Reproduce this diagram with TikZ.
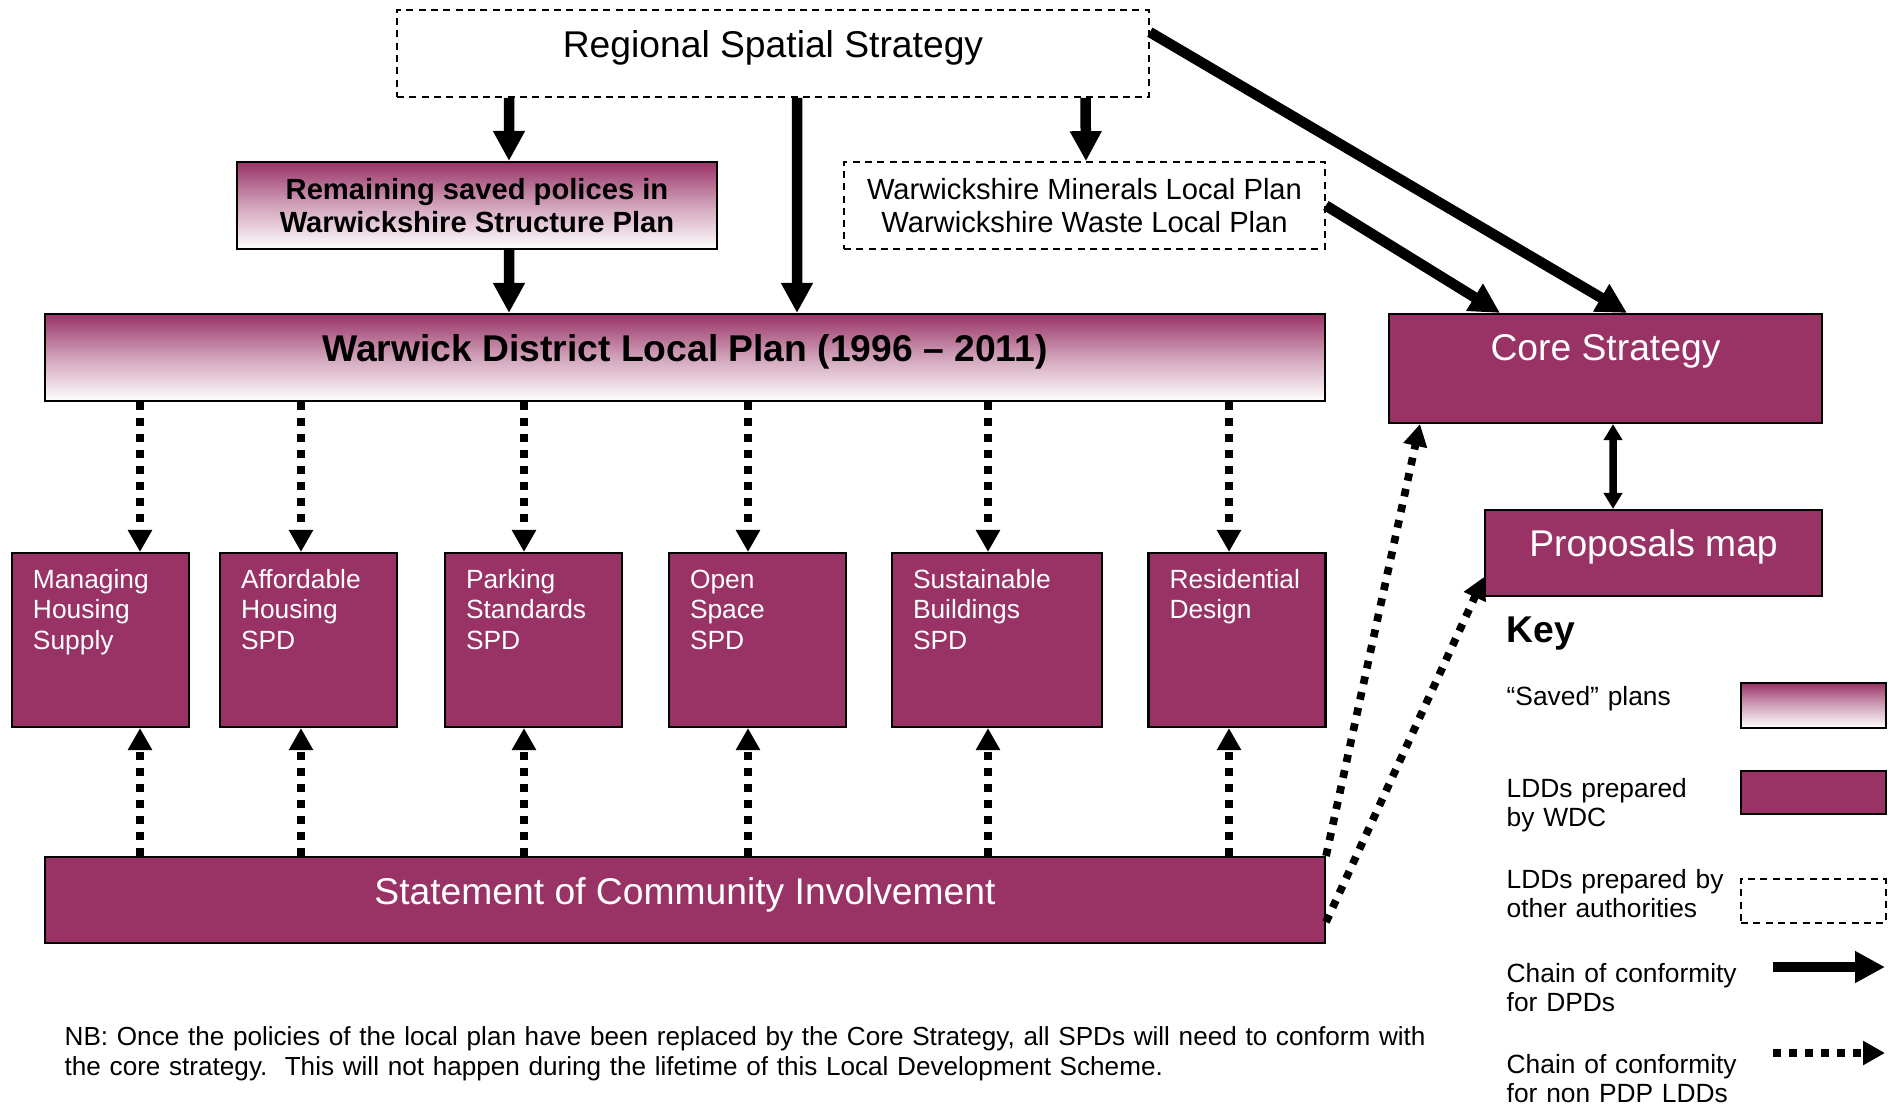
\documentclass[tikz,border=0pt]{standalone}
\usepackage{fontspec}
\setmainfont{Liberation Sans}
\usepackage{tikz}
\usetikzlibrary{arrows.meta}
\definecolor{lddplum}{HTML}{993366}

\begin{document}
\begin{tikzpicture}[
    every node/.style={font=\fontsize{10.6}{12.7}\selectfont},
    savedbox/.style={draw=black, line width=0.6pt, rectangle,
                     top color=lddplum, bottom color=white, middle color=lddplum!45!white},
    wdcbox/.style={draw=black, line width=0.6pt, rectangle, fill=lddplum, text=white},
    otherbox/.style={draw=black, line width=0.5pt, rectangle, fill=white,
                     dash pattern=on 2pt off 1.5pt},
    bigtext/.style={inner xsep=0pt, inner ysep=0pt, text height=0.47cm, text depth=0.40cm},
    midtext/.style={font=\fontsize{8.3}{9.3}\selectfont, align=center,
                    minimum height=0.87cm, inner sep=0pt},
    spdbox/.style={wdcbox, font=\fontsize{7.5}{8.8}\selectfont, align=left,
                   inner xsep=0.21cm, inner ysep=0pt, text width=1.35cm,
                   text height=0.35cm, text depth=1.39cm},
    keytext/.style={anchor=base west, align=left, text width=3.4cm, inner sep=0pt,
                    font=\fontsize{7.5}{8.5}\selectfont},
    dpd/.style={-{Triangle[length=0.30cm,width=0.30cm]}, line width=0.105cm},
    nonpdp/.style={-{Triangle[length=0.22cm,width=0.23cm]}, line width=0.077cm,
                   dash pattern=on 0.077cm off 0.083cm},
    linkarrow/.style={{Triangle[length=0.16cm,width=0.18cm]}-{Triangle[length=0.16cm,width=0.18cm]},
                      line width=0.075cm}
]
\useasboundingbox (0,0) rectangle (18.96,-11.07);

% --- Top tier ---
\node[otherbox, bigtext, minimum width=7.52cm] (rss) at (7.73,-0.535) {Regional Spatial Strategy};

\node[savedbox, midtext, font=\fontsize{8.3}{9.3}\selectfont\bfseries, minimum width=4.80cm]
     (saved) at (4.77,-2.055) {Remaining saved polices in\\Warwickshire Structure Plan};
\node[otherbox, midtext, minimum width=4.81cm]
     (mins) at (10.845,-2.055) {Warwickshire Minerals Local Plan\\Warwickshire Waste Local Plan};

\node[savedbox, bigtext, font=\fontsize{10.6}{12.7}\selectfont\bfseries, minimum width=12.80cm]
     (wdlp) at (6.85,-3.575) {Warwick District Local Plan (1996 – 2011)};

\node[wdcbox, bigtext, text height=0.46cm, text depth=0.63cm, minimum width=4.33cm]
     (core) at (16.055,-3.685) {Core Strategy};
\node[wdcbox, bigtext, text height=0.46cm, minimum width=3.37cm]
     (pmap) at (16.535,-5.53) {Proposals map};

% --- SPDs ---
\node[spdbox] (mhs) at (1.005,-6.40) {Managing\\Housing\\Supply};
\node[spdbox] (ahs) at (3.085,-6.40) {Affordable\\Housing\\SPD};
\node[spdbox] (pss) at (5.335,-6.40) {Parking\\Standards\\SPD};
\node[spdbox] (oss) at (7.575,-6.40) {Open\\Space\\SPD};
\node[spdbox, text width=1.68cm] (sbs) at (9.97,-6.40) {Sustainable\\Buildings\\SPD};
\node[spdbox] (rd)  at (12.37,-6.40) {Residential\\Design};

\node[wdcbox, bigtext, text depth=0.39cm, minimum width=12.80cm]
     (sci) at (6.85,-9.00) {Statement of Community Involvement};

% --- Chain of conformity for DPDs ---
\draw[dpd] ([xshift=-2.64cm]rss.south) -- ([xshift=0.32cm]saved.north);
\draw[dpd] ([xshift=0.24cm]rss.south) -- ([xshift=1.12cm]wdlp.north);
\draw[dpd] ([xshift=3.125cm]rss.south) -- ([xshift=0.015cm]mins.north);
\draw[dpd] ([xshift=0.32cm]saved.south) -- ([xshift=-1.76cm]wdlp.north);
\draw[dpd] ([yshift=-0.23cm]rss.north east) -- ([xshift=0.215cm]core.north);
\draw[dpd] (mins.east) -- ([xshift=-1.055cm]core.north);
\draw[linkarrow] ([xshift=0.075cm]core.south) -- ([xshift=-0.405cm]pmap.north);

% --- Chain of conformity for the SPDs ---
\foreach \spd/\dx in {mhs/0.395, ahs/-0.075, pss/-0.095, oss/-0.095, sbs/-0.09, rd/-0.08} {
  \coordinate (\spd top) at ([xshift=\dx cm]\spd.north);
  \coordinate (\spd bot) at ([xshift=\dx cm]\spd.south);
  \draw[nonpdp] (\spd top |- wdlp.south) -- (\spd top);
  \draw[nonpdp] (\spd bot |- sci.north) -- (\spd bot);
}
\draw[nonpdp] (sci.north east) -- ([xshift=0.32cm]core.south west);
\draw[nonpdp] ([yshift=-0.22cm]sci.east) -- ([yshift=-0.24cm]pmap.west);

% --- Key ---
\node[anchor=base west, inner sep=0pt, font=\fontsize{10.6}{12.7}\selectfont\bfseries]
     (key) at (15.06,-6.42) {Key};
\node[keytext] (ksavedtxt) at (15.06,-7.05) {“Saved” plans};
\node[keytext] (kwdctxt)   at (15.06,-7.97) {LDDs prepared\\by WDC};
\node[keytext] (kothertxt) at (15.06,-8.88) {LDDs prepared by\\other authorities};
\node[keytext] (kdpdtxt)   at (15.06,-9.82) {Chain of conformity\\for DPDs};
\node[keytext] (knontxt)   at (15.06,-10.73) {Chain of conformity\\for non PDP LDDs};

\node[savedbox, minimum width=1.45cm, minimum height=0.45cm] (ksaved) at (18.135,-7.055) {};
\node[wdcbox, minimum width=1.45cm, minimum height=0.43cm] (kwdc) at (18.135,-7.925) {};
\node[otherbox, minimum width=1.45cm, minimum height=0.44cm] (kother) at (18.135,-9.01) {};

\coordinate (kdpd from) at (17.73,-9.67);
\coordinate (kdpd to)   at (18.85,-9.67);
\coordinate (knon from) at (17.73,-10.53);
\coordinate (knon to)   at (18.85,-10.53);
\draw[dpd] (kdpd from) -- (kdpd to);
\draw[nonpdp] (knon from) -- (knon to);

% --- Note ---
\node[anchor=base west, align=left, text width=14.8cm, inner sep=0pt,
      font=\fontsize{7.43}{8.6}\selectfont] (nb) at (0.64,-10.45)
     {NB: Once the policies of the local plan have been replaced by the Core Strategy, all SPDs will need to conform with\\
      the core strategy.\ \ This will not happen during the lifetime of this Local Development Scheme.};

\end{tikzpicture}
\end{document}
